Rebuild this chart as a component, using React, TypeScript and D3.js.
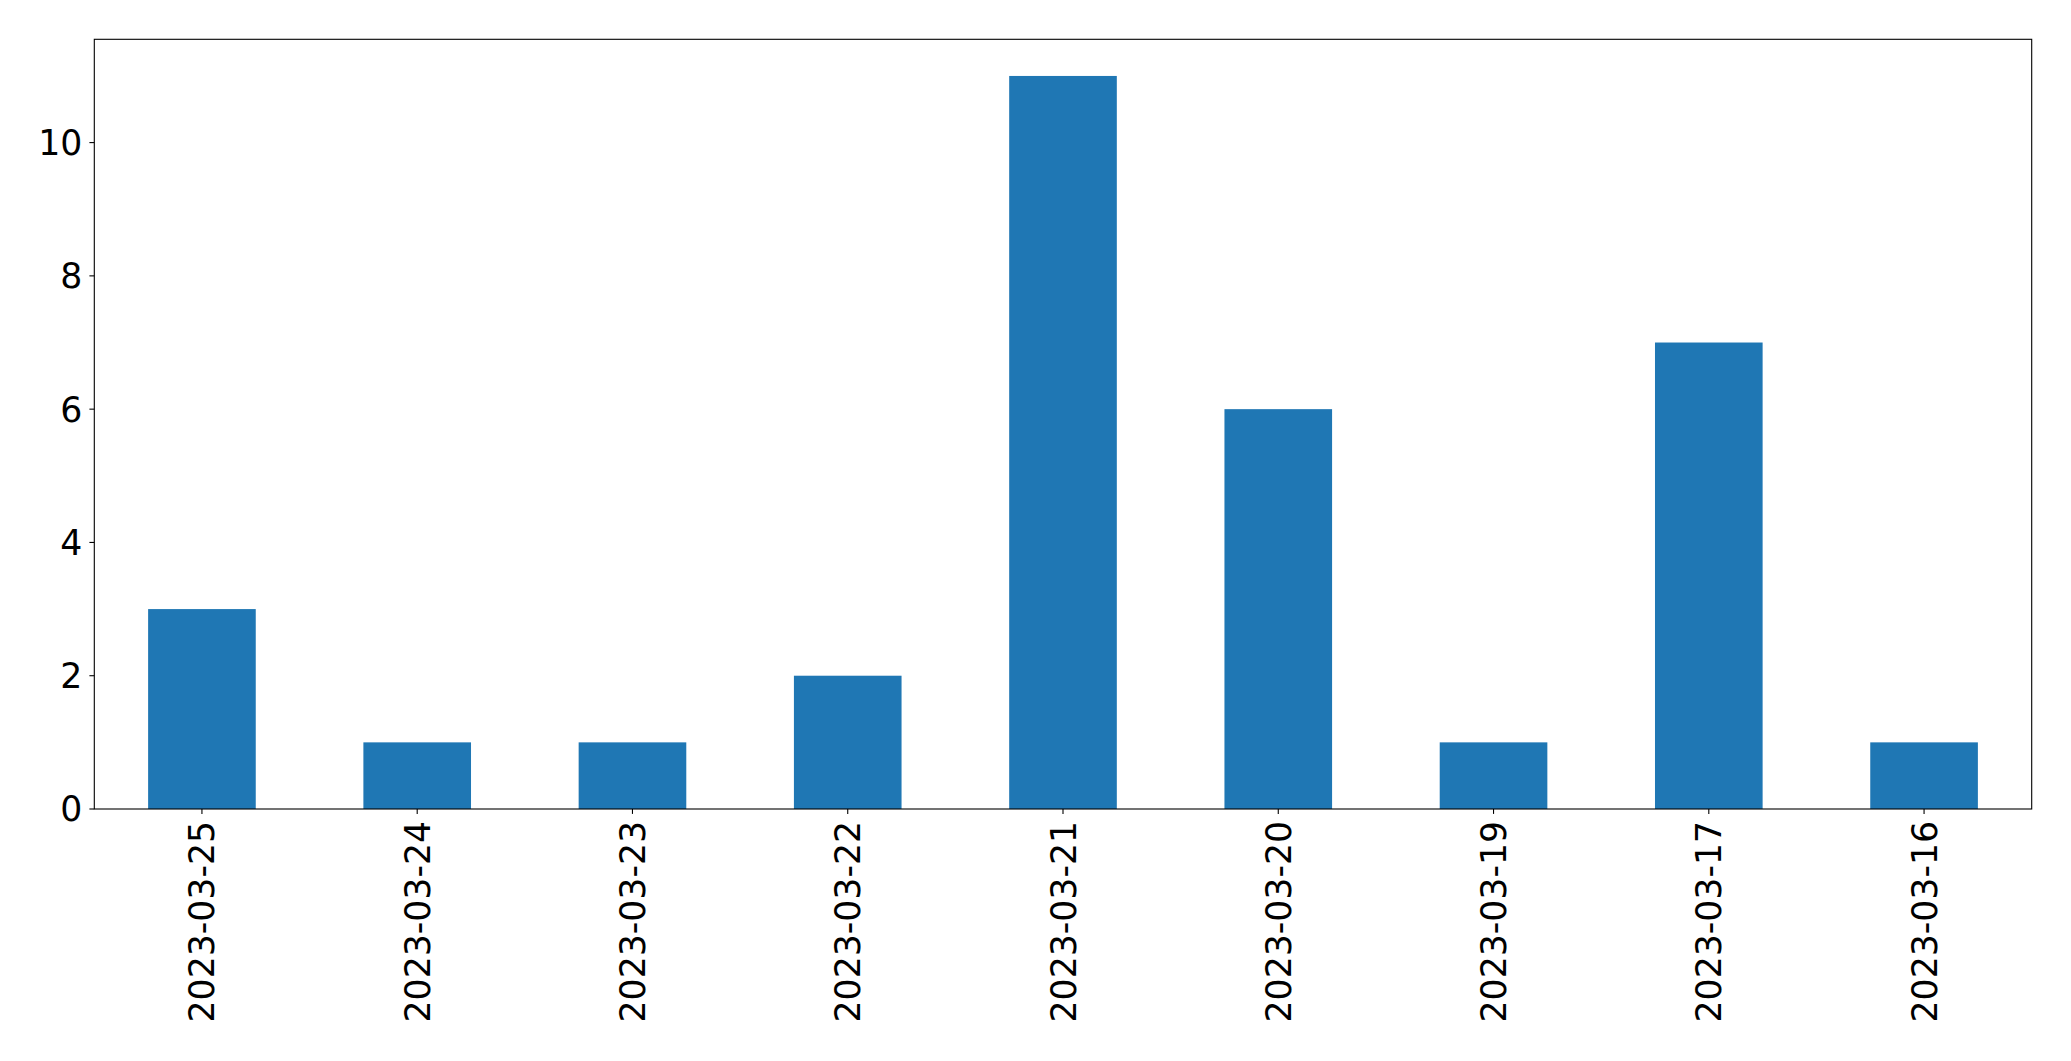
import React from "react";
import * as d3 from "d3";

const categories = [
  "2023-03-25",
  "2023-03-24",
  "2023-03-23",
  "2023-03-22",
  "2023-03-21",
  "2023-03-20",
  "2023-03-19",
  "2023-03-17",
  "2023-03-16",
];
const values = [3, 1, 1, 2, 11, 6, 1, 7, 1];
const yTicks = [0, 2, 4, 6, 8, 10];

const W = 2071;
const H = 1061;
const M = { left: 94.3, right: 2031.7, top: 39.3, bottom: 809 };
const FONT = "'DejaVu Sans', sans-serif";
const FS = 34.7;

export default function App() {
  const x = d3
    .scaleBand<string>()
    .domain(categories)
    .range([M.left, M.right])
    .paddingInner(0.5)
    .paddingOuter(0.25);
  const yMax = d3.max(values)! * 1.05;
  const y = d3.scaleLinear().domain([0, yMax]).range([M.bottom, M.top]);
  const bw = x.bandwidth();

  return (
    <svg
      width={W}
      height={H}
      style={{ position: "absolute", left: 0, top: 0, background: "#fff" }}
      fontFamily={FONT}
    >
      <rect x={0} y={0} width={W} height={H} fill="#fff" />
      {categories.map((c, i) => (
        <rect
          key={c}
          x={x(c)!}
          y={y(values[i])}
          width={bw}
          height={y(0) - y(values[i])}
          fill="#1f77b4"
        />
      ))}
      <rect
        x={M.left}
        y={M.top}
        width={M.right - M.left}
        height={M.bottom - M.top}
        fill="none"
        stroke="#000"
        strokeWidth={1.1}
      />
      {yTicks.map((t) => (
        <g key={t}>
          <line
            x1={M.left - 4.9}
            x2={M.left}
            y1={y(t)}
            y2={y(t)}
            stroke="#000"
            strokeWidth={1.1}
          />
          <text
            x={M.left - 4.9 - 7}
            y={y(t)}
            dy="0.36em"
            textAnchor="end"
            fontSize={FS}
            fill="#000"
          >
            {t}
          </text>
        </g>
      ))}
      {categories.map((c) => {
        const cx = x(c)! + bw / 2;
        return (
          <g key={c}>
            <line
              x1={cx}
              x2={cx}
              y1={M.bottom}
              y2={M.bottom + 4.9}
              stroke="#000"
              strokeWidth={1.1}
            />
            <text
              transform={`translate(${cx},${M.bottom + 4.9 + 7}) rotate(-90)`}
              dy="0.36em"
              textAnchor="end"
              fontSize={FS}
              fill="#000"
            >
              {c}
            </text>
          </g>
        );
      })}
    </svg>
  );
}
